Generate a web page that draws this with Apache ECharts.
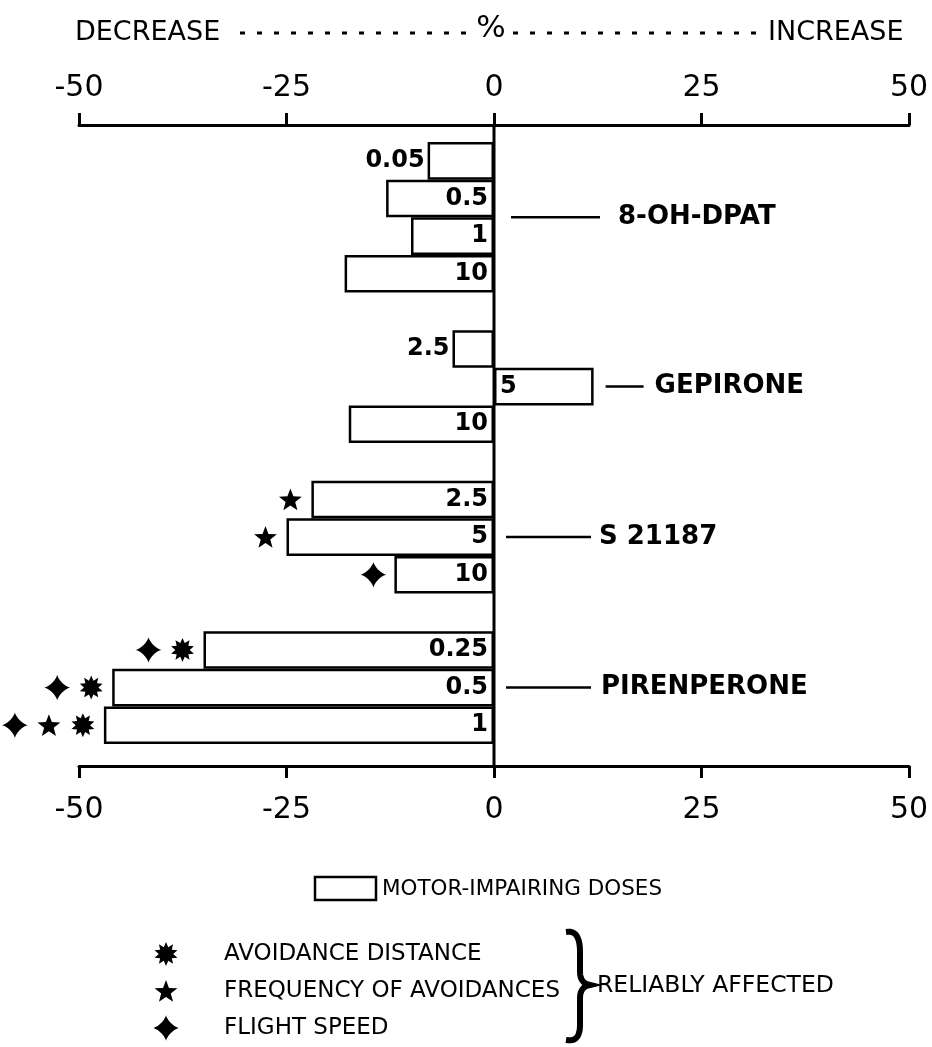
<!DOCTYPE html>
<html>
<head>
<meta charset="utf-8">
<script src="https://cdn.jsdelivr.net/npm/echarts@6/dist/echarts.min.js"></script>
<style>
  html, body { margin: 0; padding: 0; background: #fff; }
  #chart { width: 932px; height: 1047px; }
</style>
</head>
<body>
<div id="chart"></div>
<script>
// drugs, doses (mg/kg) and % change
const drugs = ['8-OH-DPAT', 'GEPIRONE', 'S 21187', 'PIRENPERONE'];
const doses = [
  ['0.05', '0.5', '1', '10'],
  ['2.5', '5', '10'],
  ['2.5', '5', '10'],
  ['0.25', '0.5', '1'],
];
const changes = [
  [-8, -13, -10, -18],
  [-5, 12, -17.5],
  [-22, -25, -12],
  [-35, -46, -47],
];
// reliably affected measures (1 = marked)
const avoidanceDistance = [[0, 0, 0, 0], [0, 0, 0], [0, 0, 0], [1, 1, 1]];
const avoidanceFrequency = [[0, 0, 0, 0], [0, 0, 0], [1, 1, 0], [0, 0, 1]];
const flightSpeed = [[0, 0, 0, 0], [0, 0, 0], [0, 0, 1], [1, 1, 1]];
const xTicks = [-50, -25, 0, 25, 50];

const FONT = '"DejaVu Sans", sans-serif';

// group label layout (line start from bar end, line length, gap to text)
const groupLine = [
  { start: 17, len: 89, gap: 18 },
  { start: 12, len: 38, gap: 11 },
  { start: 12, len: 85, gap: 8 },
  { start: 12, len: 85, gap: 10 },
];

// symbol shapes as polygons
function starPoints(cx, cy, r, n, inner) {
  const pts = [];
  for (let i = 0; i < n * 2; i++) {
    const rr = i % 2 === 0 ? r : r * inner;
    const a = -Math.PI / 2 + i * Math.PI / n;
    pts.push([cx + rr * Math.cos(a), cy + rr * Math.sin(a)]);
  }
  return pts;
}
function sparkPoints(cx, cy, r) {
  const pts = [];
  for (let i = 0; i < 80; i++) {
    const t = i / 80 * Math.PI * 2;
    const c = Math.cos(t), s = Math.sin(t);
    pts.push([cx + r * Math.sign(c) * Math.pow(Math.abs(c), 2.8),
              cy + r * Math.sign(s) * Math.pow(Math.abs(s), 2.8)]);
  }
  return pts;
}
function symbolPoints(kind, cx, cy) {
  if (kind === 'burst') return starPoints(cx, cy, 12, 10, 0.6);
  if (kind === 'star') return starPoints(cx, cy + 1, 12, 5, 0.42);
  return sparkPoints(cx, cy, 13);
}
function bezier(p0, p1, p2, p3, n) {
  const out = [];
  for (let i = 0; i <= n; i++) {
    const t = i / n, u = 1 - t;
    out.push([
      u * u * u * p0[0] + 3 * u * u * t * p1[0] + 3 * u * t * t * p2[0] + t * t * t * p3[0],
      u * u * u * p0[1] + 3 * u * u * t * p1[1] + 3 * u * t * t * p2[1] + t * t * t * p3[1],
    ]);
  }
  return out;
}

// build rows (empty row between groups)
let rowNames = [], barData = [], markData = [], groupData = [];
drugs.forEach((drug, g) => {
  if (g > 0) { rowNames.push('gap' + g); barData.push('-'); }
  const first = rowNames.length;
  doses[g].forEach((dose, i) => {
    const row = rowNames.length;
    const v = changes[g][i];
    rowNames.push(drug + ' ' + dose);
    let label = { position: 'insideRight' };
    if (v > 0) label = { position: 'insideLeft' };
    else if (v > -9) label = { position: 'left', distance: 3 };
    barData.push({ value: v, dose: dose, label: label });
    markData.push([v, row, avoidanceDistance[g][i], avoidanceFrequency[g][i], flightSpeed[g][i]]);
  });
  groupData.push([Math.max(0, ...changes[g]), first, rowNames.length - 1, g]);
});

const gridTop = 142, gridBottom = 303, topOffset = 17, bottomOffset = 22;

const axisCommon = {
  type: 'value',
  min: -50,
  max: 50,
  interval: 25,
  splitLine: { show: false },
  axisLine: { show: true, onZero: false, lineStyle: { color: '#000', width: 3 } },
  axisTick: { show: true, length: 12, lineStyle: { color: '#000', width: 3 } },
};

const chart = echarts.init(document.getElementById('chart'));

const option = {
  backgroundColor: '#fff',
  animation: false,
  grid: { left: 79, right: 23, top: gridTop, bottom: gridBottom },
  xAxis: [
    Object.assign({}, axisCommon, {
      position: 'bottom',
      offset: bottomOffset,
      axisLabel: { fontFamily: FONT, fontSize: 30, color: '#000', margin: 29 },
    }),
    Object.assign({}, axisCommon, {
      position: 'top',
      offset: topOffset,
      axisLabel: { fontFamily: FONT, fontSize: 30, color: '#000', margin: 22 },
    }),
  ],
  yAxis: {
    type: 'category',
    data: rowNames,
    inverse: true,
    show: false,
  },
  series: [
    {
      type: 'bar',
      data: barData,
      barCategoryGap: '0%',
      itemStyle: { color: '#fff', borderColor: '#000', borderWidth: 2.5 },
      label: {
        show: true,
        distance: 6,
        fontFamily: FONT,
        fontWeight: 'bold',
        fontSize: 24,
        color: '#000',
        formatter: p => p.data.dose,
      },
    },
    {
      type: 'custom',
      clip: false,
      data: markData,
      encode: { x: 0, y: 1 },
      renderItem: (params, api) => {
        const p = api.coord([api.value(0), api.value(1)]);
        const kinds = [];
        if (api.value(2)) kinds.push('burst');
        if (api.value(3)) kinds.push('star');
        if (api.value(4)) kinds.push('spark');
        return {
          type: 'group',
          children: kinds.map((k, i) => ({
            type: 'polygon',
            shape: { points: symbolPoints(k, p[0] - 21 - i * 34, p[1]) },
            style: { fill: '#000' },
          })),
        };
      },
    },
    {
      type: 'custom',
      clip: false,
      data: groupData,
      encode: { x: 0, y: 1 },
      renderItem: (params, api) => {
        const g = api.value(3);
        const p1 = api.coord([api.value(0), api.value(1)]);
        const p2 = api.coord([api.value(0), api.value(2)]);
        const y = (p1[1] + p2[1]) / 2;
        const x0 = p1[0] + groupLine[g].start;
        const x1 = x0 + groupLine[g].len;
        return {
          type: 'group',
          children: [
            { type: 'line', shape: { x1: x0, y1: y, x2: x1, y2: y }, style: { stroke: '#000', lineWidth: 2.5 } },
            {
              type: 'text',
              style: {
                text: drugs[g], x: x1 + groupLine[g].gap, y: y,
                verticalAlign: 'middle', fill: '#000',
                font: 'bold 26px ' + FONT,
              },
            },
          ],
        };
      },
    },
  ],
};

chart.setOption(option);

// zero line and annotations
const x0 = chart.convertToPixel({ xAxisIndex: 0 }, 0);
const topAxisY = gridTop - topOffset;
const bottomAxisY = 1047 - gridBottom + bottomOffset;

const legendSymbols = ['burst', 'star', 'spark'];
const legendTexts = ['AVOIDANCE DISTANCE', 'FREQUENCY OF AVOIDANCES', 'FLIGHT SPEED'];
const legendY = [954, 991, 1028];

// right curly brace
const brace = [].concat(
  bezier([566, 932], [576, 930], [580, 938], [580, 952], 12),
  [[580, 970]],
  bezier([580, 972], [580, 980], [584, 984], [590, 985], 8),
  bezier([590, 985], [584, 986], [580, 990], [580, 998], 8),
  [[580, 1024]],
  bezier([580, 1025], [580, 1036], [576, 1042], [566, 1040], 12)
);

const graphics = [
  { type: 'line', shape: { x1: x0, y1: topAxisY, x2: x0, y2: bottomAxisY }, style: { stroke: '#000', lineWidth: 3 }, z: 10 },
  { type: 'text', style: { text: 'DECREASE', x: 75, y: 33, verticalAlign: 'middle', font: '27px ' + FONT, fill: '#000' } },
  { type: 'line', shape: { x1: 240, y1: 33, x2: 470, y2: 33 }, style: { stroke: '#000', lineWidth: 3, lineDash: [5, 12] } },
  { type: 'text', style: { text: '%', x: 491, y: 29, align: 'center', verticalAlign: 'middle', font: '31px ' + FONT, fill: '#000' } },
  { type: 'line', shape: { x1: 513, y1: 33, x2: 762, y2: 33 }, style: { stroke: '#000', lineWidth: 3, lineDash: [5, 12] } },
  { type: 'text', style: { text: 'INCREASE', x: 768, y: 33, verticalAlign: 'middle', font: '27px ' + FONT, fill: '#000' } },
  { type: 'rect', shape: { x: 315, y: 877, width: 61, height: 23 }, style: { fill: '#fff', stroke: '#000', lineWidth: 2.5 } },
  { type: 'text', style: { text: 'MOTOR-IMPAIRING DOSES', x: 382, y: 889, verticalAlign: 'middle', font: '21.5px ' + FONT, fill: '#000' } },
  { type: 'polyline', shape: { points: brace }, style: { fill: null, stroke: '#000', lineWidth: 6 } },
  { type: 'text', style: { text: 'RELIABLY AFFECTED', x: 597, y: 986, verticalAlign: 'middle', font: '23.5px ' + FONT, fill: '#000' } },
];
legendSymbols.forEach((k, i) => {
  graphics.push({ type: 'polygon', shape: { points: symbolPoints(k, 166, legendY[i]) }, style: { fill: '#000' } });
  graphics.push({ type: 'text', style: { text: legendTexts[i], x: 224, y: legendY[i], verticalAlign: 'middle', font: '23px ' + FONT, fill: '#000' } });
});

chart.setOption({ graphic: graphics });
</script>
</body>
</html>
